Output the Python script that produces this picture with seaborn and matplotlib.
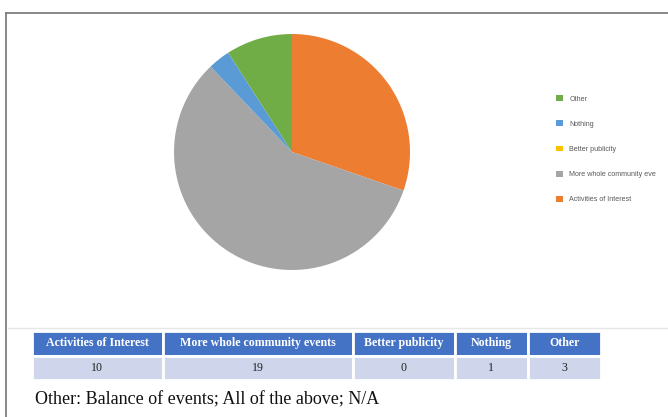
import pandas as pd
import matplotlib.pyplot as plt
import seaborn as sns

# dados
categorias = ["Activities of Interest", "More whole community events",
              "Better publicity", "Nothing", "Other"]
# rotulos da legenda como aparecem no original (o 2o vem cortado)
legenda = ["Activities of Interest", "More whole community eve",
           "Better publicity", "Nothing", "Other"]
valores = [10, 19, 0, 1, 3]
cores = ["#ED7D31", "#A5A5A5", "#FFC000", "#5B9BD5", "#70AD47"]
nota = "Other: Balance of events; All of the above; N/A"

df = pd.DataFrame({"Resposta": categorias, "Total": valores})

sns.set_style("white")
plt.rcParams['font.family'] = ['Liberation Sans', 'DejaVu Sans']

W, H = 668, 417
fig = plt.figure(figsize=(W / 100, H / 100), dpi=100)


def caixa(x, y, w, h):
    # pixels (origem no topo) -> coordenadas da figura
    return [x / W, 1 - (y + h) / H, w / W, h / H]


# moldura do grafico
borda = fig.add_axes(caixa(6, 13, 700, 420))
borda.set_xticks([])
borda.set_yticks([])
for lado in ["right", "bottom"]:
    borda.spines[lado].set_visible(False)
for lado in ["left", "top"]:
    borda.spines[lado].set_color("#7F7F7F")
    borda.spines[lado].set_linewidth(1.3)
borda.patch.set_alpha(0)
fig.add_artist(plt.Line2D([8 / W, 1], [1 - 328 / H, 1 - 328 / H],
                          color="#E6E6E6", lw=1))

# pizza
r = 118
ax = fig.add_axes(caixa(292 - r, 152 - r, 2 * r, 2 * r))
fatias, _ = ax.pie(df["Total"], colors=cores, startangle=90, counterclock=False,
                   radius=1, wedgeprops={"linewidth": 0})
ax.set_xlim(-1, 1)
ax.set_ylim(-1, 1)
ax.set_aspect("equal")
ax.axis("off")

# legenda (ordem invertida, como no original)
leg = fig.legend(fatias[::-1], legenda[::-1], loc="upper left",
                 bbox_to_anchor=(550 / W, 1 - 89 / H), frameon=False,
                 fontsize=5.1, handlelength=0.9, handleheight=0.9,
                 handletextpad=0.95, labelspacing=2.5)
for t in leg.get_texts():
    t.set_color("#595959")

# tabela
ax_tab = fig.add_axes(caixa(32, 331, 569, 49))
ax_tab.axis("off")
larguras = [130, 189, 102, 72, 73]
tot = sum(larguras)
tabela = ax_tab.table(cellText=[[str(v) for v in df["Total"]]],
                      colLabels=list(df["Resposta"]),
                      colWidths=[l / tot for l in larguras],
                      cellLoc="center", bbox=[0, 0, 1, 1])
tabela.auto_set_font_size(False)
for (lin, col), cel in tabela.get_celld().items():
    cel.set_edgecolor("white")
    cel.set_linewidth(2)
    if lin == 0:
        cel.set_facecolor("#4472C4")
        cel.get_text().set_color("white")
        cel.get_text().set_fontweight("bold")
    else:
        cel.set_facecolor("#CFD5EA")
        cel.get_text().set_color("#222222")
    cel.get_text().set_fontfamily("Liberation Serif")
    cel.get_text().set_fontsize(8.6)

fig.text(35 / W, 1 - 404 / H, nota, fontsize=13, family="Liberation Serif",
         color="#111111", va="baseline", ha="left")

plt.savefig("out.png", dpi=100)
